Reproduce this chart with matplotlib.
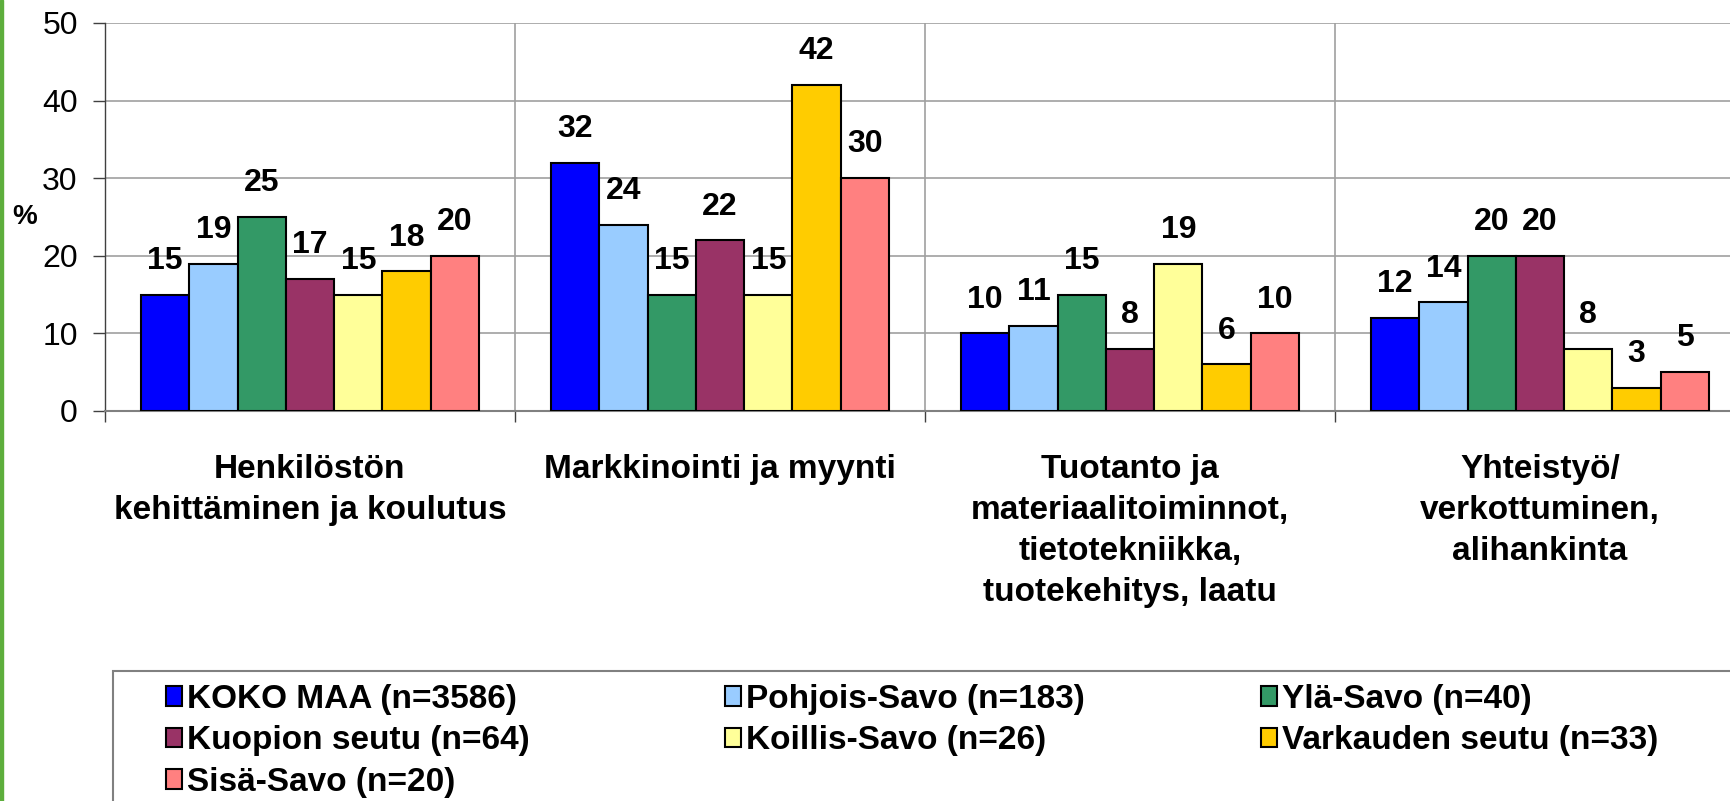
# Grouped bar chart: development needs by region (%)

import matplotlib
matplotlib.use("Agg")
import matplotlib.pyplot as plt
import numpy as np

plt.rcParams['font.family'] = ['Liberation Sans', 'DejaVu Sans']

# data
categories = ["Henkilöstön\nkehittäminen ja koulutus",
              "Markkinointi ja myynti",
              "Tuotanto ja\nmateriaalitoiminnot,\ntietotekniikka,\ntuotekehitys, laatu",
              "Yhteistyö/\nverkottuminen,\nalihankinta"]
series_names = ["KOKO MAA (n=3586)", "Pohjois-Savo (n=183)", "Ylä-Savo (n=40)",
                "Kuopion seutu (n=64)", "Koillis-Savo (n=26)",
                "Varkauden seutu (n=33)", "Sisä-Savo (n=20)"]
koko_maa = [15, 32, 10, 12]
pohjois_savo = [19, 24, 11, 14]
yla_savo = [25, 15, 15, 20]
kuopion_seutu = [17, 22, 8, 20]
koillis_savo = [15, 15, 19, 8]
varkauden_seutu = [18, 42, 6, 3]
sisa_savo = [20, 30, 10, 5]
values = [koko_maa, pohjois_savo, yla_savo, kuopion_seutu,
          koillis_savo, varkauden_seutu, sisa_savo]
colors = ["#0000FF", "#99CCFF", "#339966", "#993366",
          "#FFFF99", "#FFCC00", "#FF8080"]

W, H = 1730, 801
fig = plt.figure(figsize=(W / 100, H / 100), dpi=100)
# plot area runs a bit past the right edge, like in the original slide
ax = fig.add_axes([105 / W, 1 - 411 / H, 1640 / W, (411 - 23) / H])

x = np.arange(len(categories))
n = len(series_names)
width = 0.824 / n
handles = []
for i in range(n):
    offs = (i - (n - 1) / 2) * width
    bars = ax.bar(x + offs, values[i], width, color=colors[i],
                  edgecolor='black', linewidth=1.5, label=series_names[i], zorder=3)
    ax.bar_label(bars, padding=13.5, fontsize=23, fontweight='bold')
    handles.append(bars)

ax.set_xlim(-0.5, 3.5)
ax.set_ylim(0, 50)
ax.set_yticks(range(0, 51, 10))
ax.tick_params(axis='y', length=8.6, width=1, color='#404040', pad=11, labelsize=23)

ax.set_xticks(x)
ax.set_xticklabels(categories, fontsize=24, fontweight='bold', linespacing=1.42)
ax.tick_params(axis='x', which='major', length=0, pad=31)
ax.set_xticks([-0.5, 0.5, 1.5, 2.5, 3.5], minor=True)
ax.tick_params(axis='x', which='minor', length=8, width=1, color='#404040')

ax.set_axisbelow(True)
ax.yaxis.grid(True, color='#a0a0a0', linewidth=1.2)
ax.xaxis.grid(True, which='minor', color='#a0a0a0', linewidth=1.2)
ax.spines['top'].set_visible(False)
ax.spines['right'].set_visible(False)
ax.spines['left'].set_color('#404040')
ax.spines['left'].set_linewidth(1)
ax.spines['bottom'].set_color('#808080')
ax.spines['bottom'].set_linewidth(1.5)

fig.text(25 / W, 1 - 217 / H, "%", fontsize=20, fontweight='bold',
         ha='center', va='center')

# green stripe on the left edge of the slide
fig.patches.append(plt.Rectangle((0, 0), 3 / W, 1, transform=fig.transFigure,
                                 color='#5DAE3C', zorder=5))

# legend frame (only top and left edge are visible)
fig.patches.append(plt.Rectangle((113 / W, -0.1), 1.0, (801 - 671) / H + 0.1,
                                 transform=fig.transFigure, fill=False,
                                 edgecolor='#808080', linewidth=1.5))

# three legend columns, row order as in the original
cols = [[0, 3, 6], [1, 4], [2, 5]]
col_x = [166, 725, 1261]
for idx, cx in zip(cols, col_x):
    fig.legend([handles[k] for k in idx], [series_names[k] for k in idx],
               loc='upper left', bbox_to_anchor=(cx / W, 1 - 684 / H),
               frameon=False, borderpad=0, borderaxespad=0,
               prop={'size': 24, 'weight': 'bold'},
               handlelength=0.48, handleheight=0.54, handletextpad=0.15,
               labelspacing=0.31)

fig.savefig("out.png", dpi=100)
